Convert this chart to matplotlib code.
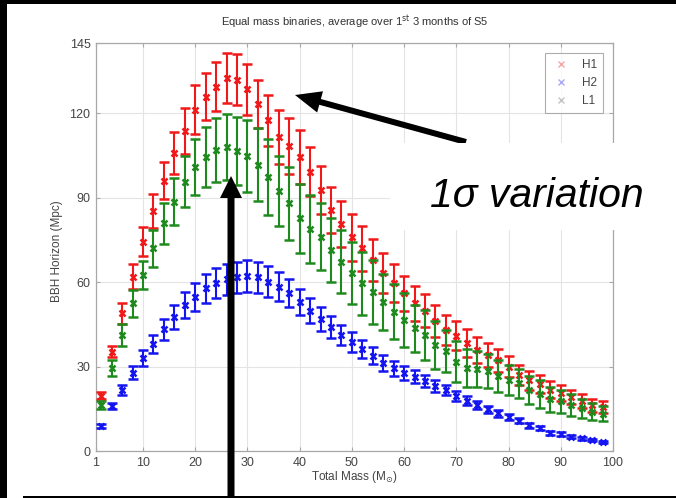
import matplotlib
matplotlib.use("Agg")
import matplotlib.pyplot as plt
from matplotlib.lines import Line2D
from matplotlib.patches import Rectangle, FancyArrow

# ---------------- data ----------------
total_mass = [2, 4, 6, 8, 10, 12, 14, 16, 18, 20, 22, 24, 26, 28, 30, 32, 34, 36, 38, 40,
              42, 44, 46, 48, 50, 52, 54, 56, 58, 60, 62, 64, 66, 68, 70, 72, 74, 76, 78, 80,
              82, 84, 86, 88, 90, 92, 94, 96, 98]

h1_horizon = [19.7, 35.3, 48.9, 61.9, 74.4, 85.3, 96.0, 105.8, 113.8, 121.2, 125.9, 129.5, 132.5, 132.0,
              128.5, 123.2, 117.5, 111.5, 108.5, 104.5, 99.3, 92.7, 85.6, 80.7, 75.9, 72.0, 67.9, 63.4,
              59.6, 56.0, 52.5, 49.8, 46.2, 43.0, 41.0, 38.5, 35.9, 34.1, 32.2, 30.0, 27.0, 25.2,
              23.9, 21.8, 20.6, 19.2, 17.7, 16.2, 15.6]
h1_sigma = [1.3, 2.0, 3.7, 4.4, 5.2, 6.2, 6.6, 7.5, 8.2, 8.7, 8.3, 8.7, 9.0, 9.0, 9.0, 8.5, 9.0, 9.6,
            10.0, 9.5, 8.7, 8.6, 8.2, 8.2, 8.4, 8.0, 7.6, 7.1, 6.8, 6.3, 6.3, 5.9, 5.6, 5.3, 5.2,
            5.0, 4.7, 4.4, 4.1, 3.8, 3.6, 3.4, 3.2, 3.0, 2.8, 2.6, 2.4, 2.2, 2.0]

h2_horizon = [8.9, 16.0, 21.7, 27.8, 33.0, 38.0, 43.2, 47.7, 51.9, 54.8, 57.8, 59.6, 61.0, 61.7,
              62.2, 61.8, 60.2, 58.4, 56.0, 53.0, 49.9, 46.9, 44.0, 41.2, 38.8, 36.1, 33.8, 31.4,
              29.4, 27.8, 26.4, 24.9, 23.1, 21.7, 19.6, 17.8, 16.4, 14.8, 13.4, 12.2, 10.8, 9.2,
              8.1, 6.5, 6.0, 5.1, 4.5, 3.9, 3.3]
h2_sigma = [0.8, 1.2, 1.8, 2.3, 2.8, 3.3, 3.8, 4.2, 4.6, 4.9, 5.1, 5.3, 5.5, 5.6, 5.6, 5.5, 5.4, 5.2,
            5.0, 4.7, 4.5, 4.2, 4.0, 3.7, 3.5, 3.2, 3.0, 2.8, 2.6, 2.5, 2.3, 2.2, 2.1, 1.9, 1.8,
            1.6, 1.5, 1.3, 1.2, 1.1, 1.0, 0.9, 0.8, 0.7, 0.6, 0.5, 0.5, 0.4, 0.4]

l1_horizon = [16.3, 29.4, 41.2, 52.5, 62.5, 72.0, 80.9, 88.6, 95.7, 101.0, 104.6, 107.0, 107.9, 106.7,
              104.8, 101.8, 97.5, 92.4, 88.0, 82.7, 78.8, 76.2, 71.4, 67.3, 63.1, 59.6, 56.6, 53.0,
              49.5, 46.6, 43.6, 41.2, 37.7, 35.6, 31.7, 29.4, 29.1, 28.5, 26.7, 25.2, 24.0, 21.7,
              20.3, 18.4, 17.6, 16.4, 15.2, 14.0, 13.2]
l1_sigma = [1.5, 2.8, 4.0, 4.7, 5.0, 6.7, 7.4, 8.3, 9.0, 9.9, 10.7, 11.3, 11.7, 12.0, 12.8, 13.0, 13.5,
            12.4, 13.0, 12.3, 12.1, 11.8, 11.5, 11.3, 11.0, 11.2, 11.4, 10.0, 9.8, 9.5, 8.3, 8.8,
            8.6, 7.5, 7.3, 6.8, 6.5, 6.0, 5.6, 5.4, 5.2, 5.1, 5.0, 4.5, 4.2, 3.8, 3.4, 3.0, 2.7]

detectors = ["H1", "H2", "L1"]
x_ticks = [1, 10, 20, 30, 40, 50, 60, 70, 80, 90, 100]
y_ticks = [0, 30, 60, 90, 120, 145]

# ---------------- style ----------------
plt.rcParams['font.family'] = ['Liberation Sans', 'DejaVu Sans']
W, H = 676, 498
fig = plt.figure(figsize=(W / 100, H / 100), dpi=100, facecolor='white')

ax = fig.add_axes([96 / W, (H - 451) / H, (613 - 96) / W, (451 - 43) / H])
ax.set_xlim(1, 100)
ax.set_ylim(0, 145)
ax.set_xticks(x_ticks)
ax.set_yticks(y_ticks)
ax.grid(True, color='#e4e4e4', linewidth=0.8)
ax.set_axisbelow(True)
for sp in ax.spines.values():
    sp.set_color('#a8a8a8')
    sp.set_linewidth(0.9)
ax.tick_params(direction='in', top=True, right=True, length=3, color='#a8a8a8',
               labelsize=9, labelcolor='#444444', pad=4)

colors = {"H1": '#f01818', "H2": '#1414f0', "L1": '#1e8a1e'}
series = {"H1": (h1_horizon, h1_sigma), "H2": (h2_horizon, h2_sigma), "L1": (l1_horizon, l1_sigma)}
for i, det in enumerate(detectors):
    vals, sig = series[det]
    ax.errorbar(total_mass, vals, yerr=sig, fmt='x', color=colors[det], ecolor=colors[det],
                markersize=5, mew=1.8, elinewidth=1.5, capsize=3.9, capthick=1.5, zorder=3 + i)

ax.set_title(r"Equal mass binaries, average over 1$^{\rm st}$ 3 months of S5",
             fontsize=8, color='#333333', pad=12)
ax.set_xlabel(r"Total Mass (M$_{\odot}$)", fontsize=8.5, color='#444444')
ax.xaxis.set_label_coords(0.5, -0.064)
ax.xaxis.label.set_va('center')
ax.set_ylabel("BBH Horizon (Mpc)", fontsize=8.5, color='#444444')
ax.yaxis.set_label_coords(-0.0754, 0.49)
ax.yaxis.label.set_va('center')

legend_colors = {"H1": '#f4a6a6', "H2": '#a8a8f4', "L1": '#c4c4c4'}
handles = [Line2D([], [], linestyle='none', marker='x', markersize=5, mew=1.0,
                  color=legend_colors[d]) for d in detectors]
leg = ax.legend(handles, detectors, loc='upper right', bbox_to_anchor=(0.992, 0.990),
                fontsize=8.5, frameon=True, fancybox=False, edgecolor='#9a9a9a',
                handlelength=1.6, labelspacing=0.5, borderpad=0.5, handletextpad=1.0)
leg.get_frame().set_linewidth(0.8)
for t in leg.get_texts():
    t.set_color('#444444')
leg.set_zorder(10)

# ---------------- overlay (annotations, frame) ----------------
ov = fig.add_axes([0, 0, 1, 1], facecolor='none')
ov.set_xlim(0, W)
ov.set_ylim(H, 0)
ov.axis('off')
ov.set_zorder(20)

ov.add_patch(FancyArrow(466, 142, 295 - 466, 95 - 142, width=6, head_width=22,
                        head_length=26, length_includes_head=True, color='black', lw=0, zorder=1))
ov.add_patch(Rectangle((390, 143), W - 390, 87, facecolor='white', edgecolor='none', zorder=2))
ov.text(537, 196, "1σ variation", fontsize=29.5, fontstyle='italic', ha='center', va='center',
        color='black', zorder=3)
ov.add_patch(FancyArrow(231, 498, 0, 176 - 498, width=7, head_width=22,
                        head_length=22, length_includes_head=True, color='black', lw=0, zorder=4))

# black frame edges
ov.add_patch(Rectangle((0, 0), 7, H, facecolor='black', edgecolor='none', zorder=5))
ov.add_patch(Rectangle((0, 0), W, 4, facecolor='black', edgecolor='none', zorder=5))
ov.add_patch(Rectangle((23, 496), W - 23, 2, facecolor='black', edgecolor='none', zorder=5))

fig.savefig("out.png", dpi=100, facecolor=fig.get_facecolor())
